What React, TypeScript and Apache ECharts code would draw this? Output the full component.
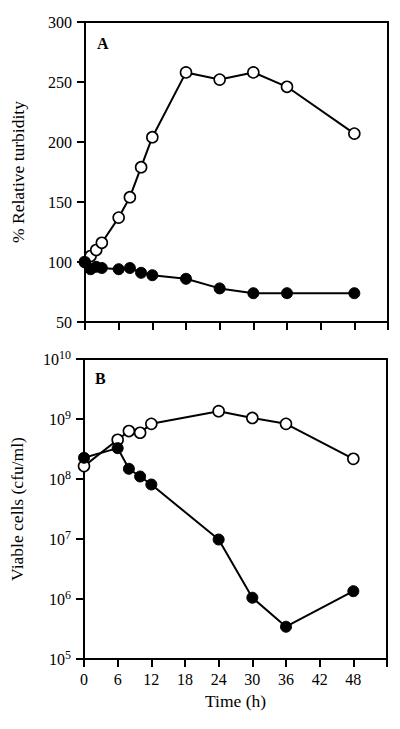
import React, { useEffect, useRef } from "react";
import * as echarts from "echarts";

const timeA = [0, 1, 2, 3, 6, 8, 10, 12, 18, 24, 30, 36, 48];
const turbidityOpen = [100, 105, 110, 116, 137, 154, 179, 204, 258, 252, 258, 246, 207];
const turbidityFilled = [100, 94, 96, 95, 94, 95, 91, 89, 86, 78, 74, 74, 74];

const timeB = [0, 6, 8, 10, 12, 24, 30, 36, 48];
const viableOpen = [1.64e8, 4.5e8, 6.3e8, 5.9e8, 8.3e8, 1.35e9, 1.04e9, 8.3e8, 2.17e8];
const viableFilled = [2.26e8, 3.27e8, 1.48e8, 1.1e8, 8.1e7, 9.8e6, 1.05e6, 3.45e5, 1.35e6];

const xTicks = [0, 6, 12, 18, 24, 30, 36, 42, 48, 54];
const yTicksA = [50, 100, 150, 200, 250, 300];

const FONT = "Liberation Serif";

export default function App() {
  const ref = useRef<HTMLDivElement>(null);
  useEffect(() => {
    if (!ref.current) return;
    const chart = echarts.init(ref.current, undefined, { renderer: "svg" });
    const axisLine = { show: true, lineStyle: { color: "#000", width: 2 } };
    const axisTick = { show: true, inside: false, length: 8, lineStyle: { color: "#000", width: 2 } };
    const pairs = (xs: number[], ys: number[]) => xs.map((x, i) => [x, ys[i]]);
    const openStyle = {
      type: "line",
      symbol: "circle",
      symbolSize: 11,
      lineStyle: { color: "#000", width: 2 },
      itemStyle: { color: "#fff", borderColor: "#000", borderWidth: 1.6 },
    };
    const filledStyle = {
      type: "line",
      symbol: "circle",
      symbolSize: 11,
      lineStyle: { color: "#000", width: 2 },
      itemStyle: { color: "#000", borderColor: "#000", borderWidth: 1 },
    };
    chart.setOption({
      animation: false,
      backgroundColor: "#fff",
      textStyle: { fontFamily: FONT },
      grid: [
        { left: 85, top: 22, width: 303, height: 300, show: true, borderColor: "#000", borderWidth: 2, backgroundColor: "transparent" },
        { left: 84, top: 359, width: 303, height: 300, show: true, borderColor: "#000", borderWidth: 2, backgroundColor: "transparent" },
      ],
      xAxis: [
        {
          type: "value", gridIndex: 0, min: xTicks[0], max: xTicks[xTicks.length - 1], interval: 6,
          axisLine, axisTick, axisLabel: { show: false }, splitLine: { show: false },
        },
        {
          type: "value", gridIndex: 1, min: xTicks[0], max: xTicks[xTicks.length - 1], interval: 6,
          axisLine, axisTick,
          axisLabel: {
            show: true, color: "#000", fontFamily: FONT, fontSize: 16, margin: 12,
            formatter: (v: number) => (v === 54 ? "" : String(v)),
          },
          splitLine: { show: false },
          name: "Time (h)", nameLocation: "middle", nameGap: 33,
          nameTextStyle: { color: "#000", fontFamily: FONT, fontSize: 17.5 },
        },
      ],
      yAxis: [
        {
          type: "value", gridIndex: 0, min: yTicksA[0], max: yTicksA[yTicksA.length - 1], interval: 50,
          axisLine, axisTick,
          axisLabel: { color: "#000", fontFamily: FONT, fontSize: 16, margin: 13 },
          splitLine: { show: false },
          name: "% Relative turbidity", nameLocation: "middle", nameGap: 58,
          nameTextStyle: { color: "#000", fontFamily: FONT, fontSize: 17.5 },
        },
        {
          type: "log", gridIndex: 1, min: 1e5, max: 1e10, logBase: 10,
          axisLine, axisTick,
          minorTick: { show: false },
          axisLabel: {
            color: "#000", fontFamily: FONT, margin: 13,
            formatter: (v: number) => "{b|10}{s|" + Math.round(Math.log10(v)) + "}",
            rich: {
              b: { fontSize: 16, fontFamily: FONT, color: "#000" },
              s: { fontSize: 12, fontFamily: FONT, color: "#000", padding: [0, 0, 9, 0] },
            },
          },
          splitLine: { show: false },
          name: "Viable cells (cfu/ml)", nameLocation: "middle", nameGap: 58,
          nameTextStyle: { color: "#000", fontFamily: FONT, fontSize: 17.5 },
        },
      ],
      graphic: [
        { type: "text", left: 97, top: 35, style: { text: "A", font: "bold 16px 'Liberation Serif'", fill: "#000" } },
        { type: "text", left: 95, top: 370, style: { text: "B", font: "bold 16px 'Liberation Serif'", fill: "#000" } },
      ],
      series: [
        { ...openStyle, name: "openA", xAxisIndex: 0, yAxisIndex: 0, data: pairs(timeA, turbidityOpen) },
        { ...filledStyle, name: "filledA", xAxisIndex: 0, yAxisIndex: 0, data: pairs(timeA, turbidityFilled) },
        { ...openStyle, name: "openB", xAxisIndex: 1, yAxisIndex: 1, data: pairs(timeB, viableOpen) },
        { ...filledStyle, name: "filledB", xAxisIndex: 1, yAxisIndex: 1, data: pairs(timeB, viableFilled) },
      ],
    });
    return () => chart.dispose();
  }, []);
  return (
    <div
      ref={ref}
      style={{ position: "fixed", left: 0, top: 0, width: 400, height: 729, background: "#fff" }}
    />
  );
}
